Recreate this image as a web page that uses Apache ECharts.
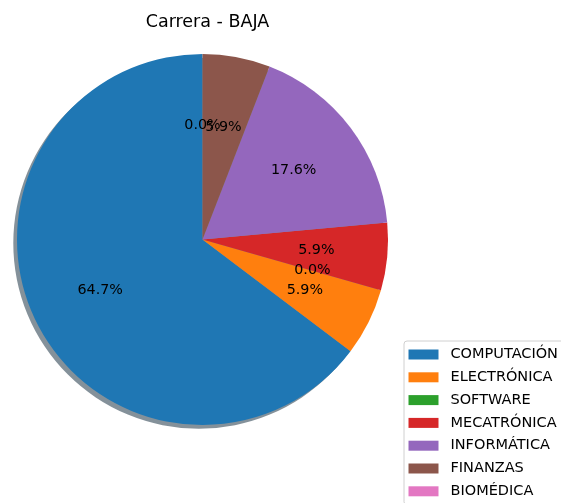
<!DOCTYPE html>
<html>
<head>
<meta charset="utf-8">
<script src="https://cdn.jsdelivr.net/npm/echarts@6/dist/echarts.min.js"></script>
<style>
  html, body { margin: 0; padding: 0; background: #fff; }
  #chart { width: 561px; height: 503px; }
</style>
</head>
<body>
<div id="chart"></div>
<script>
// Career counts for the "BAJA" group
const careers = ['COMPUTACIÓN', 'ELECTRÓNICA', 'SOFTWARE', 'MECATRÓNICA', 'INFORMÁTICA', 'FINANZAS', 'BIOMÉDICA'];
const counts = [11, 1, 0, 1, 3, 1, 0];
const palette = ['#1f77b4', '#ff7f0e', '#2ca02c', '#d62728', '#9467bd', '#8c564b', '#e377c2'];
const chartTitle = 'Carrera - BAJA';

const total = counts.reduce((a, b) => a + b, 0);
const cx = 202.5, cy = 239.5, R = 185.5;
const FONT = 'DejaVu Sans';

const chart = echarts.init(document.getElementById('chart'), null, { renderer: 'canvas' });

chart.setOption({
  animation: false,
  backgroundColor: '#ffffff',
  title: {
    text: chartTitle,
    left: cx,
    top: 8,
    textAlign: 'center',
    textStyle: { fontFamily: FONT, fontSize: 17.5, fontWeight: 'normal', color: '#000' }
  },
  legend: {
    orient: 'vertical',
    left: 404,
    top: 341,
    height: 200,
    padding: [6, 8, 6, 4.5],
    itemWidth: 30,
    itemHeight: 10,
    itemGap: 7.8,
    icon: 'rect',
    selectedMode: false,
    borderColor: '#d0d0d0',
    borderWidth: 1,
    borderRadius: 3,
    backgroundColor: 'rgba(255,255,255,0.8)',
    data: careers.map((name, i) => ({ name, itemStyle: { color: palette[i] } })),
    textStyle: { fontFamily: FONT, fontSize: 14.5, color: '#000', lineHeight: 14.5, padding: [0, 0, 0, 7] }
  },
  series: [
    {
      // drop shadow under the pie
      type: 'pie',
      z: 1,
      silent: true,
      center: [cx - 3.7, cy + 3.7],
      radius: [0, R],
      startAngle: 90,
      clockwise: false,
      label: { show: false },
      labelLine: { show: false },
      emphasis: { disabled: true },
      itemStyle: { color: 'rgba(9,36,54,0.5)', borderWidth: 0 },
      data: [{ name: '_shadow', value: total }]
    },
    {
      type: 'pie',
      z: 2,
      silent: true,
      center: [cx, cy],
      radius: [0, R],
      startAngle: 90,
      clockwise: false,
      label: { show: false },
      labelLine: { show: false },
      emphasis: { disabled: true },
      itemStyle: { borderWidth: 0 },
      data: careers.map((name, i) => ({ name, value: counts[i], itemStyle: { color: palette[i] } }))
    },
    {
      // transparent ring used only to place percentage labels at 0.6 R
      type: 'pie',
      z: 3,
      silent: true,
      center: [cx, cy],
      radius: [0.2 * R, R],
      startAngle: 90,
      clockwise: false,
      emphasis: { disabled: true },
      itemStyle: { color: 'rgba(0,0,0,0)', borderWidth: 0 },
      labelLine: { show: false },
      labelLayout: { hideOverlap: false },
      label: {
        show: true,
        position: 'inside',
        fontFamily: FONT,
        fontSize: 14.3,
        color: '#000',
        formatter: p => (p.value / total * 100).toFixed(1) + '%'
      },
      data: careers.map((name, i) => ({ name: 'lbl_' + name, value: counts[i] }))
    }
  ]
});
</script>
</body>
</html>
